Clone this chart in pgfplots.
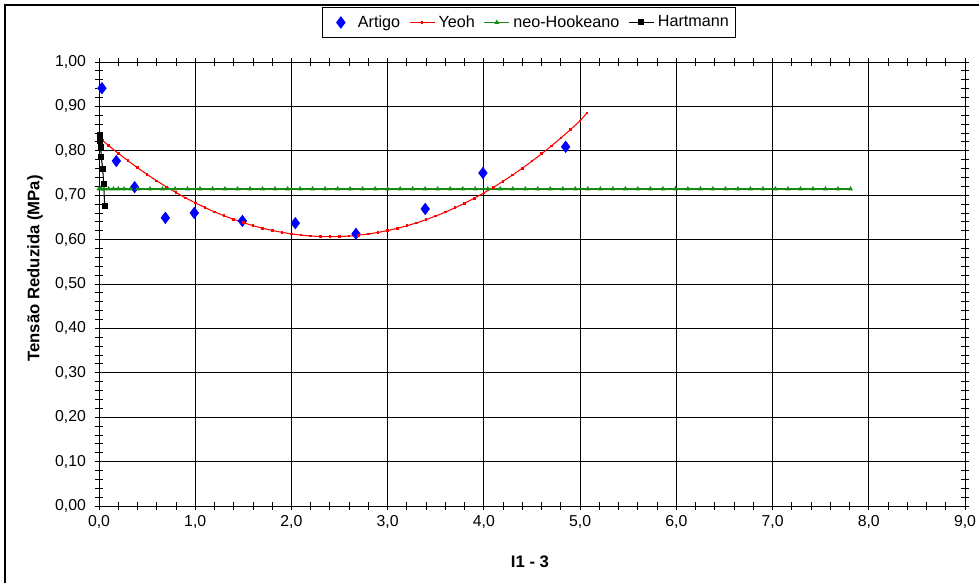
\documentclass[border=0pt]{standalone}
\usepackage{pgfplots}
\pgfplotsset{compat=1.18}
\usepackage{fontspec}
\setmainfont{Liberation Sans}
\definecolor{neog}{RGB}{20,140,20}
\pgfplotsset{
  artleg/.style={legend image code/.code={\path[draw=none,fill=none] (0cm,0cm) rectangle (0.70cm,0cm); \draw[##1] plot coordinates {(0.36cm,0cm)};}},
  lineleg/.style={legend image code/.code={\path[draw=none,fill=none] (0cm,0cm) rectangle (0.77cm,0cm); \draw[mark repeat=2,mark phase=2,##1] plot coordinates {(0.19cm,0cm) (0.44cm,0cm) (0.69cm,0cm)};}},
}
\begin{document}
\fontsize{9}{11}\selectfont
\begin{tikzpicture}
\path[use as bounding box] (0,0) rectangle (19.58,11.66);
\draw[line width=0.9pt] (0.1,0) -- (0.1,11.56) -- (19.58,11.56);
\begin{axis}[
  at={(1.98cm,1.54cm)}, anchor=south west,
  scale only axis, width=17.32cm, height=8.88cm,
  xmin=0, xmax=9, ymin=0, ymax=1,
  xtick={0,1,...,9}, ytick={0,0.1,...,1.0},
  minor x tick num=4, minor y tick num=4,
  tick align=center, major tick length=4.5pt, minor tick length=4.5pt,
  every tick/.style={black, line width=0.5pt},
  grid=major, major grid style={black, line width=0.45pt},
  axis line style={black, line width=0.5pt},
  /pgf/number format/assume math mode=true,
  font=\fontsize{9}{11}\selectfont,
  xticklabel style={/pgf/number format/.cd, fixed, fixed zerofill, precision=1, use comma},
  yticklabel style={xshift=-2pt, /pgf/number format/.cd, fixed, fixed zerofill, precision=2, use comma},
  xlabel={\fontsize{9.5}{11}\selectfont\bfseries I1 - 3},
  ylabel={\fontsize{9.5}{11}\selectfont\bfseries Tensão Reduzida (MPa)},
  every axis x label/.style={at={(axis description cs:0.4977,-0.126)}, anchor=center},
  every axis y label/.style={at={(axis description cs:-0.0739,0.535)}, rotate=90, anchor=center},
  legend columns=4,
  legend style={at={(axis description cs:0.497,1.089)}, anchor=center, draw=black, line width=0.5pt,
    font=\fontsize{9.2}{11}\selectfont, inner xsep=0pt, inner ysep=2.5pt,
    nodes={inner xsep=0pt}, column sep=0pt},
  legend cell align=left,
  clip=false,
]
\addplot[only marks, mark=diamond*, mark size=3.2pt, color=blue, artleg] coordinates {
(0.03,0.941) (0.18,0.777) (0.37,0.718) (0.69,0.649) (0.99,0.660)
(1.49,0.642) (2.04,0.637) (2.67,0.613) (3.39,0.669) (3.99,0.750) (4.85,0.809)
};
\addlegendentry{Artigo}
\addplot[color=red, line width=0.6pt, mark=square*, mark size=0.45pt, lineleg] coordinates {
(0.04,0.8226) (0.1,0.8118) (0.2,0.7943) (0.3,0.7777) (0.4,0.7618) (0.5,0.7467)
(0.6,0.7323) (0.7,0.7188) (0.8,0.7060) (0.9,0.6939) (1.0,0.6827) (1.1,0.6722)
(1.2,0.6625) (1.3,0.6536) (1.4,0.6455) (1.5,0.6381) (1.6,0.6315) (1.7,0.6256)
(1.8,0.6206) (1.9,0.6163) (2.0,0.6128) (2.1,0.6101) (2.2,0.6081) (2.3,0.6069)
(2.4,0.6065) (2.5,0.6069) (2.6,0.6080) (2.7,0.6099) (2.8,0.6126) (2.9,0.6161)
(3.0,0.6203) (3.1,0.6253) (3.2,0.6311) (3.3,0.6376) (3.4,0.6450) (3.5,0.6531)
(3.6,0.6619) (3.7,0.6716) (3.8,0.6820) (3.9,0.6932) (4.0,0.7052) (4.1,0.7179)
(4.2,0.7315) (4.3,0.7458) (4.4,0.7608) (4.5,0.7767) (4.6,0.7933) (4.7,0.8107)
(4.8,0.8288) (4.9,0.8478) (5.0,0.8675) (5.07,0.8850)
};
\addlegendentry{Yeoh}
\addplot[color=neog, line width=0.9pt, mark=triangle*, mark size=0.8pt, lineleg] coordinates {
(0,0.714) (0.02,0.714) (0.05,0.714) (0.1,0.714) (0.15,0.714) (0.2,0.714) (0.26,0.714) (0.33,0.714)
(0.40,0.714) (0.53,0.714) (0.66,0.714) (0.79,0.714) (0.92,0.714) (1.05,0.714) (1.18,0.714)
(1.31,0.714) (1.44,0.714) (1.57,0.714) (1.70,0.714) (1.83,0.714) (1.96,0.714) (2.09,0.714)
(2.22,0.714) (2.35,0.714) (2.48,0.714) (2.61,0.714) (2.74,0.714) (2.87,0.714) (3.00,0.714)
(3.13,0.714) (3.26,0.714) (3.39,0.714) (3.52,0.714) (3.65,0.714) (3.78,0.714) (3.91,0.714)
(4.04,0.714) (4.17,0.714) (4.30,0.714) (4.43,0.714) (4.56,0.714) (4.69,0.714) (4.82,0.714)
(4.95,0.714) (5.08,0.714) (5.21,0.714) (5.34,0.714) (5.47,0.714) (5.60,0.714) (5.73,0.714)
(5.86,0.714) (5.99,0.714) (6.12,0.714) (6.25,0.714) (6.38,0.714) (6.51,0.714) (6.64,0.714)
(6.77,0.714) (6.90,0.714) (7.03,0.714) (7.16,0.714) (7.29,0.714) (7.42,0.714) (7.55,0.714)
(7.68,0.714) (7.81,0.714)
};
\addlegendentry{neo-Hookeano}
\addplot[color=black, line width=0.6pt, mark=square*, mark size=1.4pt, lineleg] coordinates {
(0.006,0.836) (0.010,0.829) (0.014,0.821) (0.018,0.808) (0.024,0.785) (0.038,0.760) (0.049,0.725) (0.059,0.676)
};
\addlegendentry{Hartmann\kern0.14cm}
\end{axis}
\end{tikzpicture}
\end{document}
